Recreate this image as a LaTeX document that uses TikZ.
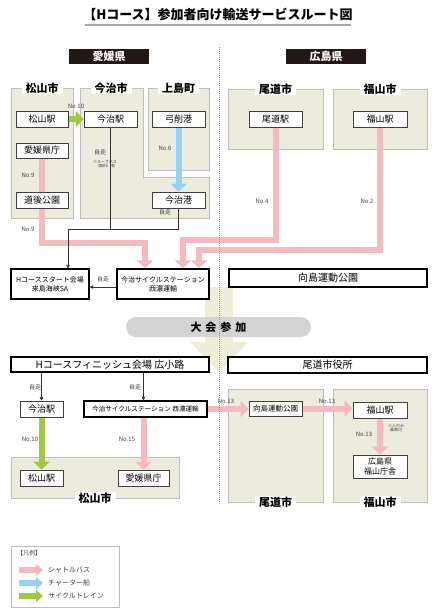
\documentclass[tikz,border=0pt]{standalone}
\usepackage{fontspec}
\setmainfont{Noto Sans CJK JP}
\usetikzlibrary{arrows.meta,backgrounds}
\definecolor{shuttle}{RGB}{245,185,192}
\definecolor{charter}{RGB}{150,210,245}
\definecolor{cycle}{RGB}{160,200,70}
\definecolor{panelbg}{RGB}{237,235,222}
\definecolor{panelline}{RGB}{190,190,190}
\definecolor{bigarrow}{RGB}{238,237,218}
\definecolor{pillgray}{RGB}{212,212,212}
\definecolor{headbg}{RGB}{35,24,21}
\begin{document}
\begin{tikzpicture}[x=1pt, y=-1pt,
    panel/.style={fill=panelbg, draw=panelline, line width=0.9pt},
    ptitle/.style={fill=white, inner xsep=4pt, inner ysep=1pt, font=\bfseries\fontsize{11}{11}\selectfont},
    stn/.style={draw=black!75, fill=white, line width=0.6pt, minimum height=16pt, inner sep=0pt, font=\fontsize{9}{10}\selectfont},
    hub/.style={draw=black, fill=white, line width=1.4pt, inner sep=0pt, align=center, font=\fontsize{7}{9}\selectfont},
    pref/.style={fill=headbg, text=white, minimum width=80pt, minimum height=15pt, inner sep=0pt, font=\bfseries\fontsize{11}{11}\selectfont},
    lbl/.style={font=\fontsize{6}{6}\selectfont, text=black!75, inner sep=1pt},
    note/.style={font=\fontsize{4}{4.6}\selectfont, text=black!75, align=center, inner sep=0pt},
    fat/.style={line width=6pt, -{Triangle[width=16pt,length=8pt]}},
    bus/.style={fat, draw=shuttle},
    ship/.style={fat, draw=charter},
    train/.style={fat, draw=cycle},
    walk/.style={draw=black!80, line width=0.5pt},
    walkto/.style={walk, -{Triangle[width=3.5pt,length=3.5pt]}}]
  \useasboundingbox (0,0) rectangle (436,611);
  % heading
  \node[font=\bfseries\fontsize{13}{13}\selectfont] (title) at (218,14) {【Hコース】参加者向け輸送サービスルート図};
  \draw[gray!70, line width=1.2pt] (85,25) -- (351,25);
  \node[pref] (ehime) at (109,56.5) {愛媛県};
  \node[pref] (hiro) at (326,56.5) {広島県};
  % city areas and the big arrow
  \begin{scope}[on background layer]
    \draw[panel] (11,88) rectangle (73,218);
    \draw[panel] (80,88) -- (143,88) -- (143,177) -- (209,177) -- (209,218) -- (80,218) -- cycle;
    \draw[panel] (148,88) rectangle (209,170);
    \draw[panel] (228,89) rectangle (323,149);
    \draw[panel] (333,89) rectangle (427,149);
    \draw[panel] (11,457) rectangle (179,498);
    \draw[panel] (228,389) rectangle (323,502);
    \draw[panel] (333,389) rectangle (427,502);
    \fill[bigarrow] (205,287) -- (233,287) -- (233,342) -- (248,342) -- (219,372) -- (190,342) -- (205,342) -- cycle;
  \end{scope}
  \node[ptitle] (tMts) at (42,88) {松山市};
  \node[ptitle] (tIma) at (111,88) {今治市};
  \node[ptitle] (tKami) at (178.5,88) {上島町};
  \node[ptitle] (tOno) at (275.5,89) {尾道市};
  \node[ptitle] (tFuk) at (380,89) {福山市};
  \node[ptitle] (tMts2) at (95,498) {松山市};
  \node[ptitle] (tOno2) at (275.5,502) {尾道市};
  \node[ptitle] (tFuk2) at (380,502) {福山市};
  % before the race
  \node[stn, minimum width=52pt] (mtsSt) at (42,119) {松山駅};
  \node[stn, minimum width=53pt] (imaSt) at (110.5,119) {今治駅};
  \node[stn, minimum width=53pt] (yugePt) at (178.5,119) {弓削港};
  \node[stn, minimum width=52pt, minimum height=15pt] (kencho) at (42,150.5) {愛媛県庁};
  \node[stn, minimum width=52pt] (dogo) at (42,200) {道後公園};
  \node[stn, minimum width=53pt] (imaPt) at (178.5,200) {今治港};
  \node[stn, minimum width=53pt] (onoSt) at (275.5,119) {尾道駅};
  \node[stn, minimum width=54pt] (fukSt) at (380,119) {福山駅};
  \node[hub, minimum width=78pt, minimum height=30pt] (start) at (50,284) {Hコーススタート会場\\来島海峡SA};
  \node[hub, minimum width=92pt, minimum height=30pt] (cyc) at (163,284) {今治サイクルステーション\\西濃運輸};
  \node[hub, minimum width=198pt, minimum height=18pt, font=\fontsize{10}{10}\selectfont] (muka) at (328,278) {向島運動公園};
  \node[fill=pillgray, rounded corners=10pt, minimum width=185pt, minimum height=20pt, inner sep=0pt,
        font=\bfseries\fontsize{11}{11}\selectfont] (taikai) at (218.5,327) {大\hspace{4pt}会\hspace{4pt}参\hspace{4pt}加};
  % after the race
  \node[hub, minimum width=198pt, minimum height=15pt, font=\fontsize{10}{10}\selectfont] (finish) at (110,364.5) {Hコースフィニッシュ会場\ 広小路};
  \node[hub, minimum width=199pt, minimum height=16pt, font=\fontsize{10}{10}\selectfont] (shiyaku) at (327.5,365) {尾道市役所};
  \node[stn, minimum width=43pt] (imaSt2) at (41.5,409) {今治駅};
  \node[hub, minimum width=123pt, minimum height=16pt, font=\fontsize{6.6}{7}\selectfont] (cyc2) at (145.5,409) {今治サイクルステーション\ 西濃運輸};
  \node[stn, minimum width=43pt] (mtsSt2) at (41.5,478) {松山駅};
  \node[stn, minimum width=51pt] (kencho2) at (143.5,478) {愛媛県庁};
  \node[stn, minimum width=53pt, minimum height=15pt, font=\fontsize{7.5}{8}\selectfont] (muka2) at (275.5,408.5) {向島運動公園};
  \node[stn, minimum width=54pt] (fukSt2) at (380,410) {福山駅};
  \node[stn, minimum width=54pt, minimum height=23pt, align=center, font=\fontsize{8}{9.5}\selectfont] (fukCho) at (380,466.5) {広島県\\福山庁舎};
  % routes
  \coordinate (jn) at (68,229);
  \begin{scope}[on background layer]
    \draw[train] (mtsSt) -- (imaSt);
    \draw[ship] (yugePt) -- (imaPt);
    \draw[bus] (kencho.south) -- ++(0,85) -| ([xshift=-18pt]cyc.north);
    \draw[bus] (onoSt.south) -- ++(0,113) -| ([xshift=20pt]cyc.north);
    \draw[bus] (fukSt.south) -- ++(0,123) -| ([xshift=36pt]cyc.north);
    \draw[walk] (imaSt.south) |- (jn);
    \draw[walk] (imaPt.south) |- (jn);
    \draw[walkto] (jn) -- (jn |- start.north);
    \draw[walkto] ([yshift=-3pt]cyc.west) -- ([yshift=-3pt]start.east);
    \draw[walkto] (finish.south -| imaSt2) -- (imaSt2.north);
    \draw[walkto] (finish.south -| kencho2) -- (cyc2.north -| kencho2);
    \draw[train] (imaSt2) -- (mtsSt2);
    \draw[bus] (cyc2.south -| kencho2) -- (kencho2.north);
    \draw[bus] (cyc2.east) -- (cyc2.east -| muka2.west);
    \draw[bus] (muka2.east) -- (muka2.east -| fukSt2.west);
    \draw[bus] (fukSt2) -- (fukCho);
  \end{scope}
  % route numbers and notes
  \foreach \x/\y/\t [count=\k] in {76/106/No.10, 28/175/No.9, 28/229/No.9, 165/148/No.6, 100/152/自走,
      165/212/自走, 262/201/No.4, 367/201/No.2, 103/279/自走, 35/387/自走, 135/387/自走,
      30/439/No.10, 127/439/No.15, 226/401/No.13, 327/401/No.13, 364/434/No.13}
    \node[lbl] (lb\k) at (\x,\y) {\t};
  \node[note] (loop) at (105,164) {※ループバス\\（無料）有};
  \node[note] (onlyppl) at (396,428) {※人のみ\\乗車可};
  % prefecture border
  \draw[gray!80, line width=1pt, dash pattern=on 1pt off 1pt] (219,47) -- (219,505);
  % legend
  \draw[panelline, line width=0.8pt] (11,546) rectangle (119,607);
  \node[lbl, anchor=west] (legT) at (16,553) {【凡例】};
  \foreach \col/\t [count=\k] in {shuttle/シャトルバス, charter/チャーター船, cycle/サイクルトレイン} {
    \draw[draw=\col, line width=6pt, -{Triangle[width=12pt,length=7pt]}] (19,557+13*\k) -- (43,557+13*\k);
    \node[lbl, anchor=west, font=\fontsize{7}{7}\selectfont] (leg\k) at (47,557+13*\k) {\t};
  }
\end{tikzpicture}
\end{document}
